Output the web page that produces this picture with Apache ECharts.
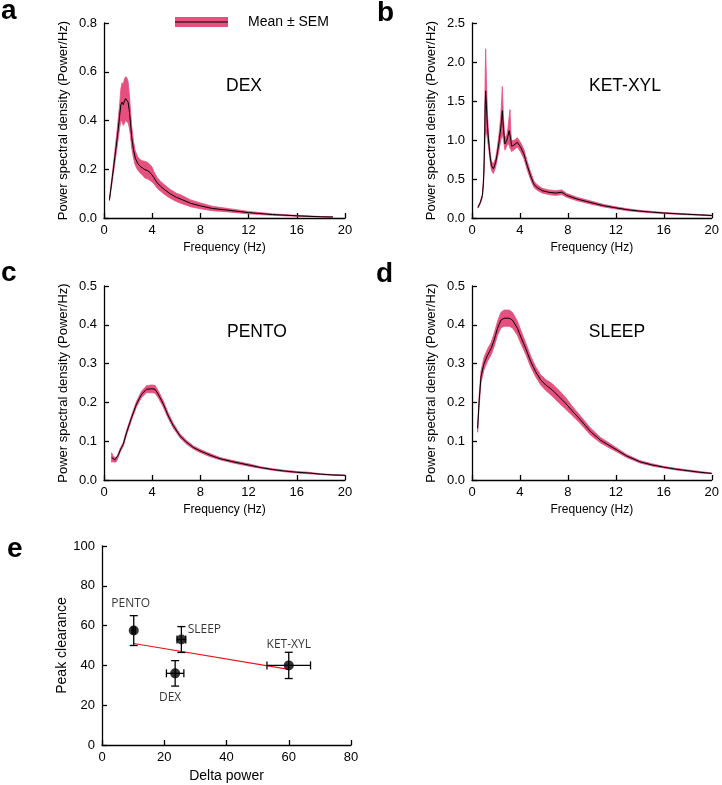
<!DOCTYPE html>
<html><head><meta charset="utf-8">
<script src="https://cdn.jsdelivr.net/npm/echarts@6/dist/echarts.min.js"></script>
<style>html,body{margin:0;padding:0;background:#fff}#c{width:722px;height:785px}</style>
</head><body><div id="c"></div>
<script>
// ---- Panel a: DEX ----
const freqA=[0.45,0.7,0.9,1.1,1.3,1.4,1.5,1.6,1.7,1.8,1.9,2.0,2.1,2.2,2.3,2.45,2.6,2.8,3.0,3.2,3.4,3.6,3.85,4.0,4.15,4.4,4.7,5.0,5.5,6.0,6.4,7.2,8.0,9.0,10.3,12,14,16,18,19];
const meanA=[0.075,0.17,0.25,0.33,0.42,0.465,0.475,0.465,0.48,0.49,0.485,0.475,0.44,0.39,0.33,0.28,0.245,0.224,0.212,0.205,0.198,0.195,0.185,0.178,0.165,0.145,0.13,0.117,0.099,0.085,0.077,0.06,0.05,0.039,0.032,0.022,0.014,0.009,0.005,0.004];
const semA=[0.005,0.015,0.025,0.035,0.05,0.065,0.08,0.085,0.09,0.09,0.09,0.085,0.07,0.055,0.045,0.035,0.03,0.027,0.027,0.03,0.034,0.034,0.032,0.03,0.025,0.022,0.02,0.02,0.018,0.017,0.017,0.014,0.012,0.009,0.007,0.005,0.003,0.002,0.001,0.001];
// ---- Panel b: KET-XYL ----
const freqB=[0.5,0.7,0.87,0.95,1.0,1.05,1.1,1.14,1.2,1.3,1.42,1.52,1.62,1.78,1.97,2.1,2.25,2.4,2.53,2.62,2.75,2.89,3.0,3.1,3.17,3.24,3.3,3.5,3.78,4.06,4.33,4.61,4.89,5.17,5.44,5.86,6.4,6.97,7.5,7.9,8.75,9.86,10.97,12,13,14,15,16,17,18,19,20];
const meanB=[0.137,0.2,0.29,0.45,0.63,1.0,1.45,1.63,1.45,1.15,0.93,0.78,0.67,0.63,0.71,0.82,0.97,1.15,1.376,1.15,0.95,0.99,1.05,1.12,1.14,1.0,0.92,0.935,0.97,0.906,0.82,0.67,0.54,0.43,0.39,0.35,0.33,0.32,0.33,0.29,0.244,0.2,0.158,0.13,0.105,0.088,0.075,0.064,0.055,0.047,0.04,0.032];
const semB=[0.01,0.015,0.02,0.04,0.08,0.2,0.4,0.54,0.35,0.15,0.08,0.06,0.06,0.06,0.06,0.07,0.1,0.15,0.31,0.15,0.08,0.07,0.1,0.18,0.25,0.12,0.07,0.06,0.06,0.06,0.06,0.055,0.05,0.04,0.035,0.03,0.03,0.03,0.03,0.025,0.022,0.02,0.016,0.014,0.012,0.01,0.009,0.008,0.007,0.006,0.005,0.005];
// ---- Panel c: PENTO ----
const freqC=[0.63,0.74,0.9,1.04,1.2,1.32,1.46,1.6,1.87,2.29,2.7,3.12,3.53,3.95,4.23,4.5,4.92,5.34,5.75,6.3,6.86,7.41,7.97,8.8,9.62,10.7,12.1,13,14,15,16,17,18,19,20];
const meanC=[0.058,0.055,0.052,0.053,0.065,0.075,0.084,0.092,0.122,0.161,0.196,0.221,0.234,0.235,0.234,0.221,0.196,0.165,0.14,0.114,0.097,0.084,0.075,0.064,0.055,0.047,0.038,0.032,0.027,0.023,0.02,0.018,0.015,0.013,0.012];
const semC=[0.012,0.008,0.006,0.005,0.005,0.005,0.005,0.005,0.006,0.006,0.007,0.008,0.009,0.01,0.01,0.009,0.008,0.007,0.006,0.005,0.005,0.004,0.004,0.004,0.003,0.003,0.003,0.002,0.002,0.002,0.002,0.002,0.001,0.001,0.001];
// ---- Panel d: SLEEP ----
const freqD=[0.47,0.6,0.75,1.0,1.3,1.6,1.85,2.13,2.41,2.68,3.1,3.38,3.79,4.07,4.48,4.9,5.31,5.73,6.14,6.7,7.25,7.8,8.36,9.05,9.88,10.7,11.5,12.1,12.9,14,15,16,17,18,19,20];
const meanD=[0.133,0.206,0.266,0.30,0.322,0.339,0.361,0.391,0.412,0.417,0.417,0.412,0.391,0.369,0.339,0.305,0.279,0.258,0.245,0.232,0.215,0.198,0.178,0.155,0.125,0.103,0.088,0.077,0.062,0.047,0.039,0.033,0.028,0.024,0.02,0.017];
const semD=[0.01,0.015,0.015,0.016,0.016,0.016,0.017,0.018,0.02,0.021,0.021,0.02,0.018,0.017,0.015,0.014,0.013,0.013,0.014,0.016,0.016,0.015,0.012,0.01,0.009,0.007,0.006,0.005,0.004,0.003,0.003,0.002,0.002,0.002,0.002,0.001];
// ---- Panel e ----
const groups=['PENTO','SLEEP','DEX','KET-XYL'];
const deltaPower=[10.2,25.5,23.5,60];
const deltaErr=[0.5,1.4,2.8,7];
const peakClearance=[57.5,53,36,40];
const peakErr=[7.5,6.5,6.4,6.6];
const fitX=[10.2,60];
const fitY=[51,38];

const FONT='"Liberation Sans", Arial, sans-serif';
const BAND='#E5507F';
const chart=echarts.init(document.getElementById('c'),null,{renderer:'canvas'});
const zip=(x,y)=>x.map((v,i)=>[v,y[i]]);

const panels=[
 {f:freqA,m:meanA,s:semA,g:{left:104,top:23,width:241,height:195},ymax:0.8,yint:0.2},
 {f:freqB,m:meanB,s:semB,g:{left:472,top:23,width:241,height:195},ymax:2.5,yint:0.5},
 {f:freqC,m:meanC,s:semC,g:{left:104,top:286,width:241,height:194},ymax:0.5,yint:0.1},
 {f:freqD,m:meanD,s:semD,g:{left:472,top:286,width:241,height:194},ymax:0.5,yint:0.1}
];
const axLine={show:true,onZero:false,lineStyle:{color:'#000',width:1.3}};
const axTick={show:true,inside:true,length:5,lineStyle:{color:'#000',width:1.3}};
const grid=[],xAxis=[],yAxis=[],series=[];
panels.forEach((p,i)=>{
  grid.push(p.g);
  xAxis.push({type:'value',gridIndex:i,min:0,max:20,interval:4,axisLine:axLine,axisTick:axTick,splitLine:{show:false},
    axisLabel:{color:'#000',fontSize:13,fontFamily:FONT,margin:6},
    name:'Frequency (Hz)',nameLocation:'middle',nameGap:24,nameTextStyle:{color:'#000',fontSize:12,fontFamily:FONT}});
  yAxis.push({type:'value',gridIndex:i,min:0,max:p.ymax,interval:p.yint,axisLine:axLine,axisTick:axTick,splitLine:{show:false},
    axisLabel:{color:'#000',fontSize:13,fontFamily:FONT,margin:7,formatter:v=>v.toFixed(1)},
    name:'Power spectral density (Power/Hz)',nameLocation:'middle',nameGap:34,nameTextStyle:{color:'#000',fontSize:13,fontFamily:FONT}});
  const bandData=p.f.map((v,k)=>[v,p.m[k]-p.s[k],p.m[k]+p.s[k]]);
  series.push({type:'custom',xAxisIndex:i,yAxisIndex:i,data:bandData,encode:{x:0,y:[1,2]},silent:true,z:1,
    renderItem:(params,api)=>{
      if(params.dataIndex!==0) return null;
      const up=bandData.map(d=>api.coord([d[0],d[2]]));
      const lo=bandData.map(d=>api.coord([d[0],d[1]])).reverse();
      return {type:'polygon',shape:{points:up.concat(lo)},style:{fill:BAND,stroke:BAND,lineWidth:0.8}};
    }});
  series.push({type:'line',xAxisIndex:i,yAxisIndex:i,data:zip(p.f,p.m),symbol:'none',lineStyle:{color:'#000',width:1},z:3});
});
// panel e
grid.push({left:102,top:546,width:249,height:199});
xAxis.push({type:'value',gridIndex:4,min:0,max:80,interval:20,axisLine:axLine,axisTick:axTick,splitLine:{show:false},
  axisLabel:{color:'#000',fontSize:13,fontFamily:FONT,margin:6},
  name:'Delta power',nameLocation:'middle',nameGap:24,nameTextStyle:{color:'#000',fontSize:14,fontFamily:FONT}});
yAxis.push({type:'value',gridIndex:4,min:0,max:100,interval:20,axisLine:axLine,axisTick:axTick,splitLine:{show:false},
  axisLabel:{color:'#000',fontSize:13,fontFamily:FONT,margin:7},
  name:'Peak clearance',nameLocation:'middle',nameGap:30,nameTextStyle:{color:'#000',fontSize:14,fontFamily:FONT}});
series.push({type:'line',xAxisIndex:4,yAxisIndex:4,data:zip(fitX,fitY),symbol:'none',lineStyle:{color:'#E8141B',width:1.2},z:2});
series.push({type:'custom',xAxisIndex:4,yAxisIndex:4,clip:false,z:3,
  data:groups.map((g,i)=>[deltaPower[i],peakClearance[i],deltaErr[i],peakErr[i]]),
  encode:{x:0,y:1},
  renderItem:(params,api)=>{
    const x=api.value(0),y=api.value(1),xe=api.value(2),ye=api.value(3);
    const t=api.coord([x,y+ye]),b=api.coord([x,y-ye]),l=api.coord([x-xe,y]),r=api.coord([x+xe,y]);
    const c=4,st={stroke:'#000',lineWidth:1.3};
    const ln=(x1,y1,x2,y2)=>({type:'line',shape:{x1,y1,x2,y2},style:st});
    return {type:'group',children:[
      ln(t[0],t[1],b[0],b[1]),ln(t[0]-c,t[1],t[0]+c,t[1]),ln(b[0]-c,b[1],b[0]+c,b[1]),
      ln(l[0],l[1],r[0],r[1]),ln(l[0],l[1]-c,l[0],l[1]+c),ln(r[0],r[1]-c,r[0],r[1]+c)]};
  }});
const offs=[[-3,-27],[23,-10],[-5,24],[0,-21]];
series.push({type:'scatter',xAxisIndex:4,yAxisIndex:4,symbolSize:10,itemStyle:{color:'#000'},z:4,
  data:groups.map((g,i)=>({name:g,value:[deltaPower[i],peakClearance[i]],
    label:{show:true,position:'inside',offset:offs[i],formatter:'{b}',color:'#000',fontSize:12,fontFamily:'"Open Sans", sans-serif'}}))});

const txt=(x,y,text,font,align,va)=>({type:'text',x,y,z:100,style:{text,font,fill:'#000',align:align||'center',verticalAlign:va||'middle',textAlign:align||'center',textVerticalAlign:va||'middle'}});
const BOLD='bold 28px '+FONT;
const graphic=[
  txt(1,25,'a',BOLD,'left','bottom'),
  txt(377,27,'b',BOLD,'left','bottom'),
  txt(1,287,'c',BOLD,'left','bottom'),
  txt(376,288,'d',BOLD,'left','bottom'),
  txt(7,563,'e',BOLD,'left','bottom'),
  txt(244,86,'DEX','17.5px '+FONT),
  txt(625,86,'KET-XYL','17.5px '+FONT),
  txt(257,332,'PENTO','17.5px '+FONT),
  txt(617,332,'SLEEP','17.5px '+FONT),
  {type:'rect',z:100,shape:{x:175,y:17,width:53,height:10},style:{fill:BAND}},
  {type:'line',z:101,shape:{x1:175,y1:22,x2:228,y2:22},style:{stroke:'#000',lineWidth:1}},
  txt(248,22,'Mean ± SEM','14px '+FONT,'left','middle')
];
chart.setOption({animation:false,backgroundColor:'#fff',grid,xAxis,yAxis,series,graphic});
</script></body></html>
